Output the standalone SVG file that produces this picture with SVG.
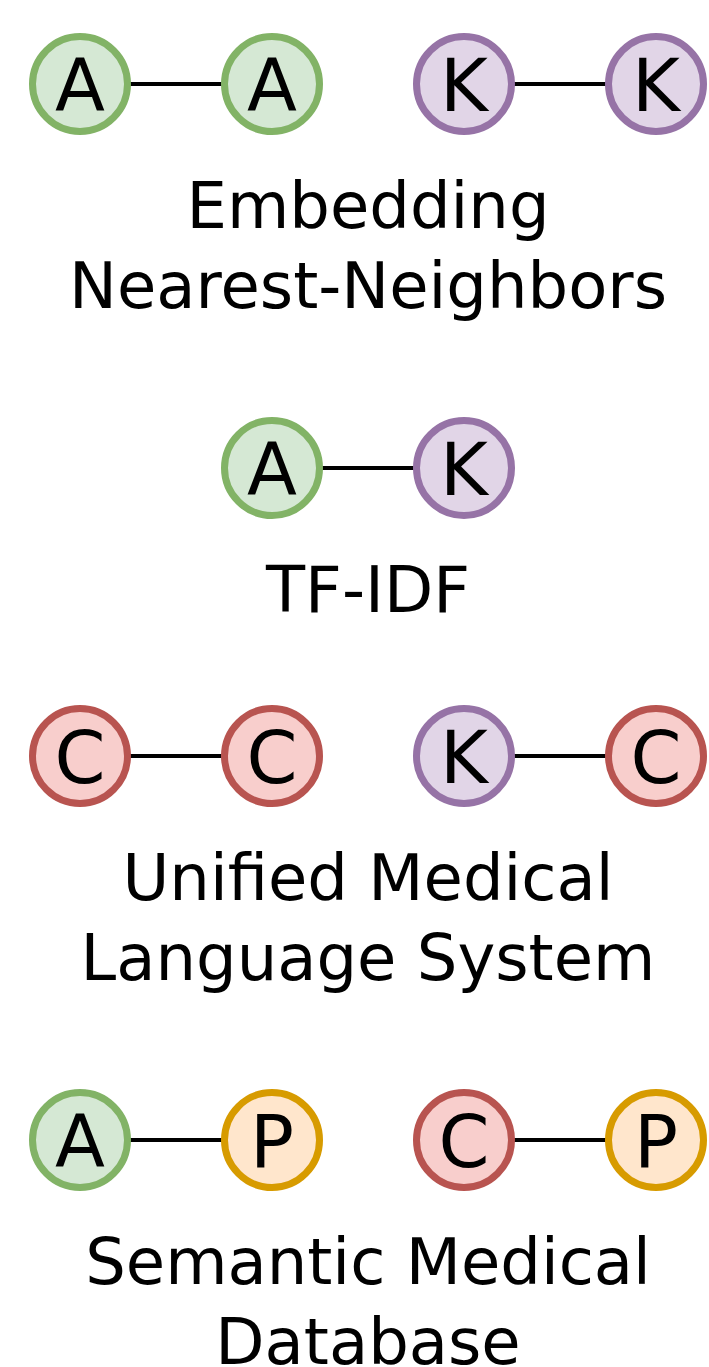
<svg xmlns="http://www.w3.org/2000/svg" width="709" height="1367" viewBox="0 0 709 1367">
<style>
.n{stroke-width:7}
.g{fill:#d5e8d4;stroke:#82b366}
.p{fill:#e1d5e7;stroke:#9673a6}
.r{fill:#f8cecc;stroke:#b85450}
.o{fill:#ffe6cc;stroke:#d79b00}
.t{font-family:"DejaVu Sans",sans-serif;font-size:73px;text-anchor:middle;fill:#000}
.l{font-family:"DejaVu Sans",sans-serif;font-size:64px;text-anchor:middle;fill:#000}
.e{stroke:#000;stroke-width:4}
</style>
<rect width="709" height="1367" fill="#fff"/>
<g id="connectors">
<line class="e" x1="128" y1="84" x2="224" y2="84"/>
<line class="e" x1="512" y1="84" x2="608" y2="84"/>
<line class="e" x1="320" y1="468" x2="416" y2="468"/>
<line class="e" x1="128" y1="756" x2="224" y2="756"/>
<line class="e" x1="512" y1="756" x2="608" y2="756"/>
<line class="e" x1="128" y1="1140" x2="224" y2="1140"/>
<line class="e" x1="512" y1="1140" x2="608" y2="1140"/>
</g>
<g id="n1"><circle class="n g" cx="80" cy="84" r="47.5"/><text class="t" x="80" y="110.5">A</text></g>
<g id="n2"><circle class="n g" cx="272" cy="84" r="47.5"/><text class="t" x="272" y="110.5">A</text></g>
<g id="n3"><circle class="n p" cx="464" cy="84" r="47.5"/><text class="t" x="464" y="110.5">K</text></g>
<g id="n4"><circle class="n p" cx="656" cy="84" r="47.5"/><text class="t" x="656" y="110.5">K</text></g>
<g id="label1"><text class="l" x="368" y="228">Embedding</text><text class="l" x="368" y="308">Nearest-Neighbors</text></g>
<g id="n5"><circle class="n g" cx="272" cy="468" r="47.5"/><text class="t" x="272" y="494.5">A</text></g>
<g id="n6"><circle class="n p" cx="464" cy="468" r="47.5"/><text class="t" x="464" y="494.5">K</text></g>
<g id="label2"><text class="l" x="368" y="612">TF-IDF</text></g>
<g id="n7"><circle class="n r" cx="80" cy="756" r="47.5"/><text class="t" x="80" y="782.5">C</text></g>
<g id="n8"><circle class="n r" cx="272" cy="756" r="47.5"/><text class="t" x="272" y="782.5">C</text></g>
<g id="n9"><circle class="n p" cx="464" cy="756" r="47.5"/><text class="t" x="464" y="782.5">K</text></g>
<g id="n10"><circle class="n r" cx="656" cy="756" r="47.5"/><text class="t" x="656" y="782.5">C</text></g>
<g id="label3"><text class="l" x="368" y="900">Unified Medical</text><text class="l" x="368" y="980">Language System</text></g>
<g id="n11"><circle class="n g" cx="80" cy="1140" r="47.5"/><text class="t" x="80" y="1166.5">A</text></g>
<g id="n12"><circle class="n o" cx="272" cy="1140" r="47.5"/><text class="t" x="272" y="1166.5">P</text></g>
<g id="n13"><circle class="n r" cx="464" cy="1140" r="47.5"/><text class="t" x="464" y="1166.5">C</text></g>
<g id="n14"><circle class="n o" cx="656" cy="1140" r="47.5"/><text class="t" x="656" y="1166.5">P</text></g>
<g id="label4"><text class="l" x="368" y="1284">Semantic Medical</text><text class="l" x="368" y="1364">Database</text></g>
</svg>
